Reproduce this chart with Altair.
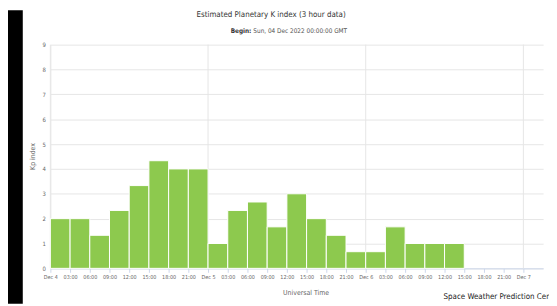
import altair as alt
import pandas as pd

# ---- data (hours since Sun, 04 Dec 2022 00:00 UTC) ----
start_hours = [0, 3, 6, 9, 12, 15, 18, 21,
               24, 27, 30, 33, 36, 39, 42, 45,
               48, 51, 54, 57, 60]
kp_values = [2.00, 2.00, 1.33, 2.33, 3.33, 4.33, 4.00, 4.00,
             1.00, 2.33, 2.67, 1.67, 3.00, 2.00, 1.33, 0.67,
             0.67, 1.67, 1.00, 1.00, 1.00]
day_boundary_hours = [0, 24, 48, 72]
x_tick_hours = list(range(0, 73, 3))
y_ticks = [0, 1, 2, 3, 4, 5, 6, 7, 8, 9]

title_text = "Estimated Planetary K index (3 hour data)"
begin_label = "Begin:"
begin_value = "Sun, 04 Dec 2022 00:00:00 GMT"
credit_text = "Space Weather Prediction Center"
x_title = "Universal Time"
y_title = "Kp index"

FONT = "Liberation Sans Narrow, DejaVu Sans Condensed, Liberation Sans, sans-serif"

bars_df = pd.DataFrame({"start": start_hours,
                        "end": [h + 3 for h in start_hours],
                        "kp": kp_values})
days_df = pd.DataFrame({"day": day_boundary_hours})

x_scale = alt.Scale(domain=[0, 75], nice=False, zero=False, padding=0)
y_scale = alt.Scale(domain=[0, 9], nice=False, padding=0)

label_expr = ("datum.value % 24 == 0 ? 'Dec ' + (4 + datum.value / 24) : "
              "(datum.value % 24 < 10 ? '0' : '') + (datum.value % 24) + ':00'")

bars = alt.Chart(bars_df).mark_bar(color="#8dc94e", stroke="white", strokeWidth=1).encode(
    x=alt.X("start:Q", scale=x_scale,
            axis=alt.Axis(title=x_title, values=x_tick_hours, tickCount=40,
                          labelExpr=label_expr, labelFontSize=5.5, labelColor="#666",
                          labelFont=FONT, labelPadding=2, labelOverlap=False, labelFlush=False,
                          tickSize=4, tickColor="#ccd6eb", domainColor="#ccd6eb",
                          grid=False, titleFont=FONT, titleFontSize=7, titleFontWeight="normal",
                          titleColor="#666", titleX=259, titleY=25, titleBaseline="middle")),
    x2="end:Q",
    y=alt.Y("kp:Q", scale=y_scale,
            axis=alt.Axis(title=y_title, values=y_ticks, labelFontSize=6, labelColor="#666",
                          labelFont=FONT, labelPadding=5, ticks=False, domain=True,
                          domainColor="#e6e6e6", gridColor="#e6e6e6",
                          titleFont=FONT, titleFontSize=7, titleFontWeight="normal",
                          titleColor="#666", titleX=-18, titleY=113, titleAngle=-90,
                          titleAlign="center", titleBaseline="middle")),
    y2=alt.datum(0),
)

day_rules = alt.Chart(days_df).mark_rule(color="#e6e6e6", strokeWidth=1).encode(
    x=alt.X("day:Q", scale=x_scale)
)

def text_layer(txt, x, y, size, weight="normal", align="left", color="#333"):
    return alt.Chart(pd.DataFrame({"t": [txt]})).mark_text(
        font=FONT, fontSize=size, fontWeight=weight, align=align, baseline="middle", color=color
    ).encode(text="t:N", x=alt.value(x), y=alt.value(y))

title_layer = text_layer(title_text, 224, -30, 8, align="center")
begin_layer = text_layer(begin_label, 204, -14, 6.5, weight="bold", align="right")
begin_val_layer = text_layer(begin_value, 206, -14, 6.5, color="#555")
credit_layer = text_layer(credit_text, 399, 256, 8, color="#222")

black_band = alt.Chart(pd.DataFrame({"t": [0]})).mark_rect(color="black").encode(
    x=alt.value(-43), x2=alt.value(-28), y=alt.value(-35), y2=alt.value(263)
)

chart = alt.layer(
    day_rules, bars, title_layer, begin_layer, begin_val_layer, credit_layer, black_band
).properties(
    width=500, height=227,
    autosize=alt.AutoSizeParams(type="none"),
    padding={"left": 43, "top": 35, "right": 6, "bottom": 36},
    background="white",
).configure_view(stroke=None)

chart.save("out.html", embed_options={"renderer": "svg", "actions": False})
